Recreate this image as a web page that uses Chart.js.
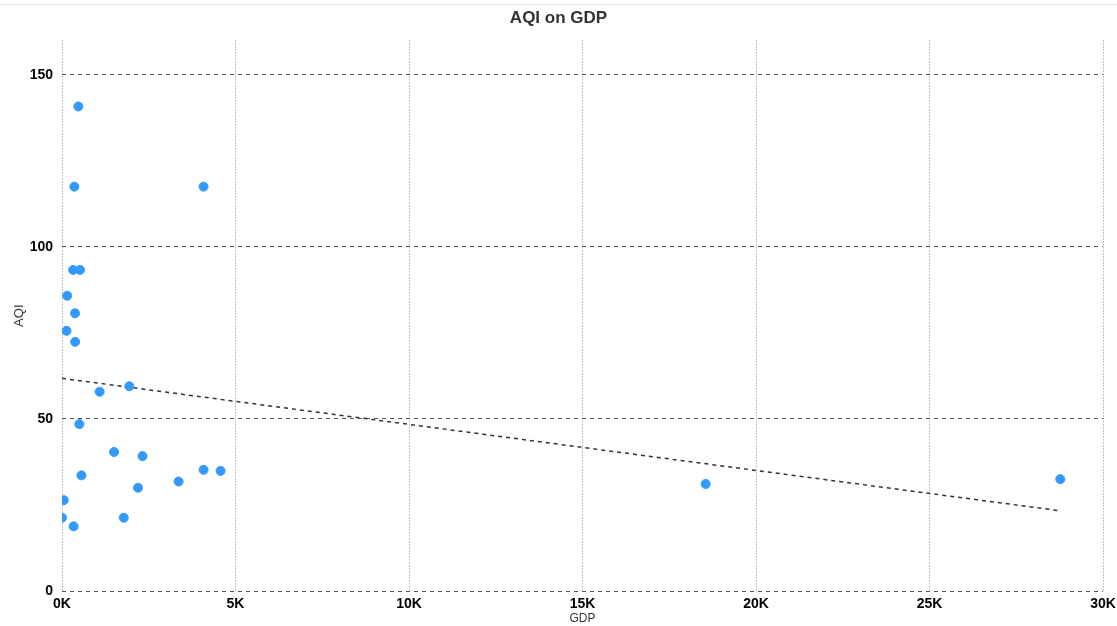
<!DOCTYPE html>
<html>
<head>
<meta charset="utf-8">
<script src="https://cdn.jsdelivr.net/npm/chart.js@4/dist/chart.umd.min.js"></script>
<style>
  html, body { margin: 0; padding: 0; background: #fff; }
  #wrap { position: relative; width: 1117px; height: 626px; }
  #topline { position: absolute; left: 0; top: 4px; width: 1117px; height: 1px; background: #e6e6e6; }
</style>
</head>
<body>
<div id="wrap">
  <div id="topline"></div>
  <canvas id="chart" width="1117" height="626"></canvas>
</div>
<script>
(function(){
    'use strict';
    // ---- data
    const gdp = [470, 355, 4080, 320, 520, 150, 375, 130, 380, 1940, 1085, 500, 1500, 2320,
                 560, 4080, 4570, 3360, 2190, 50, 0, 1780, 335, 18550, 28770];
    const aqi = [140.8, 117.5, 117.5, 93.3, 93.3, 85.8, 80.7, 75.6, 72.4, 59.5, 57.9, 48.5, 40.4, 39.2,
                 33.6, 35.2, 34.9, 31.8, 30.0, 26.4, 21.3, 21.3, 18.8, 31.1, 32.5];
    const trendGdp = [0, 28770];
    const trendAqi = [61.8, 23.3];
    const yTicks = [0, 50, 100, 150];

    const points = [];
    for (let i = 0; i < gdp.length; i++) {
        points.push({x: gdp[i], y: aqi[i]});
    }
    const trend = [];
    for (let i = 0; i < trendGdp.length; i++) {
        trend.push({x: trendGdp[i], y: trendAqi[i]});
    }

    const fam = "Liberation Sans, Arial, sans-serif";

    new Chart("chart", {
        type: "scatter",
        data: {
            datasets: [{
                label: "AQI",
                data: points,
                backgroundColor: "#3399ff",
                borderColor: "#3399ff",
                pointRadius: 4.5,
                pointHoverRadius: 4.5
            }, {
                type: "line",
                label: "trend",
                data: trend,
                borderColor: "#333",
                borderWidth: 1.5,
                borderDash: [4, 4],
                pointRadius: 0,
                fill: false
            }]
        },
        options: {
            responsive: false,
            animation: false,
            layout: { padding: { left: 0, right: 0, top: 4, bottom: 0 } },
            plugins: {
                legend: { display: false },
                tooltip: { enabled: false },
                title: {
                    display: true,
                    text: "AQI on GDP",
                    color: "#333",
                    font: { size: 17, weight: "bold", family: fam },
                    padding: { top: 4, bottom: 12 }
                }
            },
            scales: {
                x: {
                    type: "linear",
                    min: 0,
                    max: 30000,
                    afterFit: function(axis){
                        axis.height = 35;
                        axis.paddingRight = 14;
                    },
                    ticks: {
                        stepSize: 5000,
                        color: "#000",
                        font: { size: 14, weight: "bold", family: fam },
                        padding: 5,
                        callback: function(v){ return (v / 1000) + "K"; }
                    },
                    grid: { color: "#888", lineWidth: 1, drawTicks: false },
                    border: { display: false, dash: [1, 2] },
                    title: {
                        display: true,
                        text: "GDP",
                        color: "#333",
                        font: { size: 12, family: fam },
                        padding: { top: -2, bottom: 0 }
                    }
                },
                y: {
                    min: 0,
                    max: 160,
                    afterBuildTicks: function(axis){
                        axis.ticks = yTicks.map(function(v){ return {value: v}; });
                    },
                    afterFit: function(axis){
                        axis.width = 62;
                    },
                    ticks: {
                        color: "#000",
                        font: { size: 14, weight: "bold", family: fam },
                        padding: 9
                    },
                    grid: { color: "#555", lineWidth: 1, drawTicks: false },
                    border: { display: false, dash: [4, 4] },
                    title: {
                        display: true,
                        text: "AQI",
                        color: "#333",
                        font: { size: 13, family: fam },
                        padding: { top: 12, bottom: 4 }
                    }
                }
            }
        }
    });
}());
</script>
</body>
</html>
